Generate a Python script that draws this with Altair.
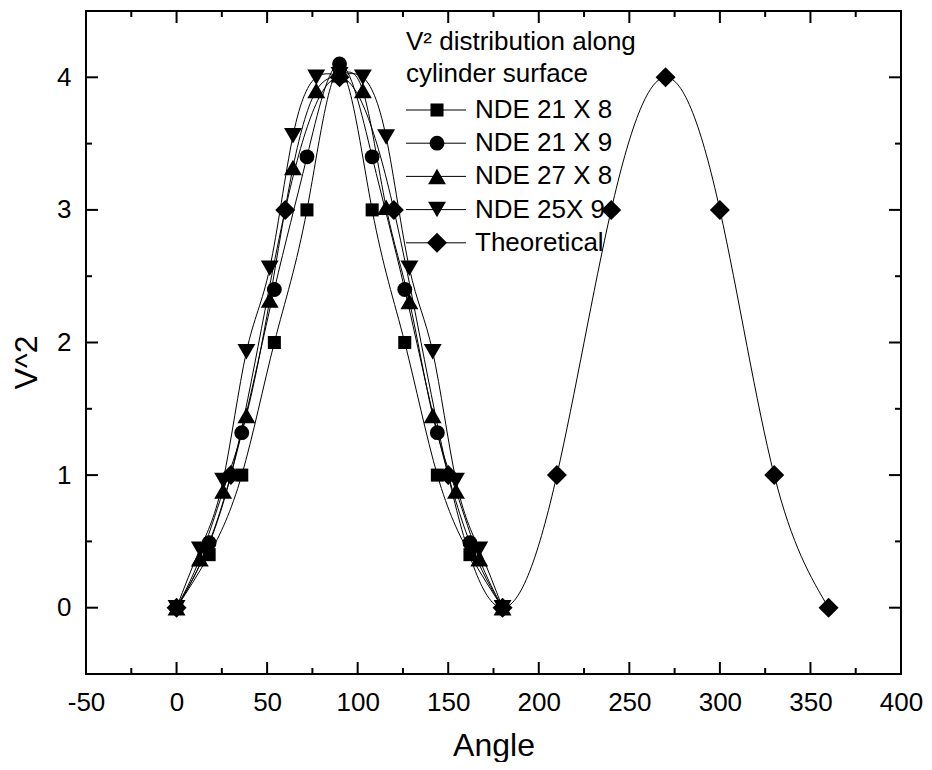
import altair as alt
import pandas as pd

# ---------------- data ----------------
series_names = ["NDE 21 X 8", "NDE 21 X 9", "NDE 27 X 8", "NDE 25X 9", "Theoretical"]

angle_a = [0, 18, 36, 54, 72, 90, 108, 126, 144, 162, 180]
nde21x8 = [0, 0.40, 1.00, 2.00, 3.00, 4.05, 3.00, 2.00, 1.00, 0.40, 0]
nde21x9 = [0, 0.49, 1.32, 2.40, 3.40, 4.10, 3.40, 2.40, 1.32, 0.49, 0]

angle_b = [0, 12.86, 25.71, 38.57, 51.43, 64.29, 77.14, 90,
           102.86, 115.71, 128.57, 141.43, 154.29, 167.14, 180]
nde27x8 = [0, 0.37, 0.88, 1.45, 2.32, 3.32, 3.90, 4.02,
           3.90, 3.02, 2.31, 1.45, 0.88, 0.37, 0]
nde25x9 = [0, 0.44, 0.96, 1.93, 2.56, 3.56, 4.00, 4.02,
           4.00, 3.55, 2.56, 1.93, 0.96, 0.44, 0]

angle_t = [0, 30, 60, 90, 120, 150, 180, 210, 240, 270, 300, 330, 360]
theory = [0, 1, 3, 4, 3, 1, 0, 1, 3, 4, 3, 1, 0]

x_major = [-50, 0, 50, 100, 150, 200, 250, 300, 350, 400]
x_minor = [-25, 25, 75, 125, 175, 225, 275, 325, 375]
y_major = [0, 1, 2, 3, 4]
y_minor = [0.5, 1.5, 2.5, 3.5]

legend_title = ["V\u00b2 distribution along", "cylinder surface"]

series_data = [
    (series_names[0], angle_a, nde21x8),
    (series_names[1], angle_a, nde21x9),
    (series_names[2], angle_b, nde27x8),
    (series_names[3], angle_b, nde25x9),
    (series_names[4], angle_t, theory),
]

W, H = 815, 663
PAD_L = 78
FONT = "Liberation Sans"
shapes = ["square", "circle", "triangle-up", "triangle-down", "diamond"]
sizes = [170, 220, 320, 320, 400]

xscale = alt.Scale(domain=[-50, 400], nice=False, zero=False)
yscale = alt.Scale(domain=[-0.5, 4.5], nice=False, zero=False)

x_axis = alt.Axis(values=x_major, labelExpr="'' + datum.value", title="Angle",
                  titleFontSize=32, titleFont=FONT, titleFontWeight="normal",
                  titleColor="black", titleBaseline="alphabetic", titleY=81,
                  labelFontSize=26, labelFont=FONT, labelColor="black",
                  labelPadding=15, labelFlush=False, labelOverlap=False,
                  ticks=False, tickSize=0, domain=False, grid=False)
y_axis = alt.Axis(values=y_major, labelExpr="'' + datum.value", title="V^2",
                  titleFontSize=32, titleFont=FONT, titleFontWeight="normal",
                  titleColor="black", titleX=-43, titleY=351,
                  labelFontSize=26, labelFont=FONT, labelColor="black",
                  labelPadding=15, labelFlush=False, labelOverlap=False,
                  ticks=False, tickSize=0, domain=False, grid=False)

X = lambda f: alt.X(f, scale=xscale, axis=x_axis)
Y = lambda f: alt.Y(f, scale=yscale, axis=y_axis)

layers = []
for i, (name, xs, ys) in enumerate(series_data):
    d = pd.DataFrame({"angle": xs, "v2": ys, "series": [name] * len(xs)})
    layers.append(alt.Chart(d).mark_line(interpolate="natural", color="black",
                                         strokeWidth=1).encode(x=X("angle:Q"), y=Y("v2:Q")))
for i, (name, xs, ys) in enumerate(series_data):
    d = pd.DataFrame({"angle": xs, "v2": ys, "series": [name] * len(xs)})
    layers.append(alt.Chart(d).mark_point(filled=True, opacity=1, color="black",
                                          shape=shapes[i], size=sizes[i]).encode(
        x=X("angle:Q"), y=Y("v2:Q")))

# inward ticks on all four sides
def xticks(vals, length):
    d = pd.DataFrame({"angle": vals})
    b = alt.Chart(d).mark_rule(color="black", strokeWidth=2).encode(
        x=X("angle:Q"), y=alt.value(H), y2=alt.value(H - length))
    t = alt.Chart(d).mark_rule(color="black", strokeWidth=2).encode(
        x=X("angle:Q"), y=alt.value(0), y2=alt.value(length))
    return [b, t]

def yticks(vals, length):
    d = pd.DataFrame({"v2": vals})
    l = alt.Chart(d).mark_rule(color="black", strokeWidth=2).encode(
        y=Y("v2:Q"), x=alt.value(0), x2=alt.value(length))
    r = alt.Chart(d).mark_rule(color="black", strokeWidth=2).encode(
        y=Y("v2:Q"), x=alt.value(W), x2=alt.value(W - length))
    return [l, r]

layers += xticks(x_major, 12) + xticks(x_minor, 6) + yticks(y_major, 12) + yticks(y_minor, 6)

# legend (custom, inside the plot); offsets measured from the frame's left edge
LX0, LX1, LXM, LXT = 320, 380, 351, 389
LFS = 26
title_y = [39, 71]
for txt, ty in zip(legend_title, title_y):
    layers.append(alt.Chart(pd.DataFrame({"t": [txt]})).mark_text(
        align="left", baseline="alphabetic", fontSize=LFS, font=FONT, color="black").encode(
        x=alt.value(LX0), y=alt.value(ty), text="t:N"))

row0, row_step = 99, 33.2
for i, name in enumerate(series_names):
    ry = row0 + i * row_step
    d = pd.DataFrame({"series": [name]})
    layers.append(alt.Chart(d).mark_rule(color="black", strokeWidth=1).encode(
        x=alt.value(LX0), x2=alt.value(LX1), y=alt.value(ry)))
    layers.append(alt.Chart(d).mark_point(filled=True, opacity=1, color="black",
                                          shape=shapes[i], size=sizes[i]).encode(
        x=alt.value(LXM), y=alt.value(ry)))
    layers.append(alt.Chart(d).mark_text(align="left", baseline="middle", fontSize=LFS,
                                         font=FONT, color="black").encode(
        x=alt.value(LXT), y=alt.value(ry), text="series:N"))

chart = alt.layer(*layers).properties(
    width=W, height=H,
    autosize=alt.AutoSizeParams(type="none"),
    padding={"left": PAD_L, "top": 3, "right": 23, "bottom": 88},
    background="white",
).configure(font=FONT).configure_view(stroke="black", strokeWidth=2)

chart.save("out.html", embed_options={"renderer": "svg", "actions": False})
